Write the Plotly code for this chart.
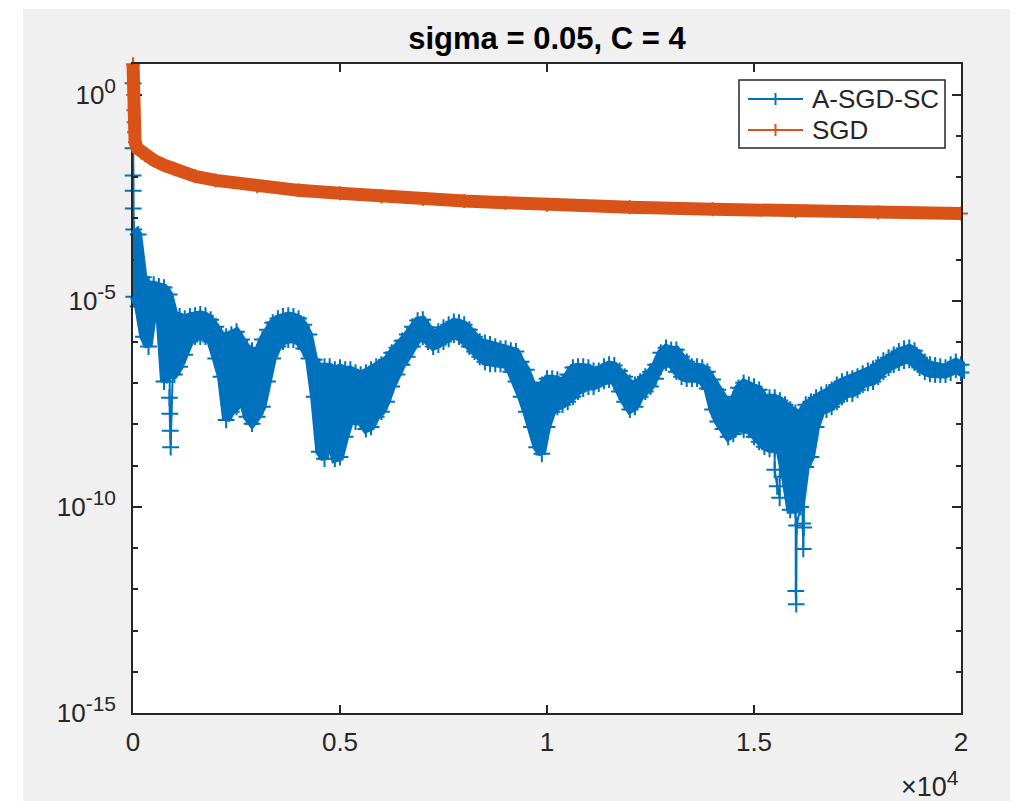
import numpy as np
import plotly.graph_objects as go

# ---------------------------------------------------------------------------
# Data (error vs. iteration, values stored as log10 exponents)
# ---------------------------------------------------------------------------

# A-SGD-SC: the first few iterates
asgd_start_iters = [1, 2, 3, 4, 5]
asgd_start_exp = [0.28, -1.30, -1.96, -2.33, -2.76]

# A-SGD-SC: afterwards the iterates oscillate quickly; upper / lower extent of the band
asgd_band_iters = [20] + list(range(125, 20001, 125))
asgd_upper_exp = [
    -3.27, -3.39, -4.43, -4.61, -4.61, -4.65, -4.68, -4.85, -5.33, -5.38,
    -5.43, -5.38, -5.36, -5.33, -5.36, -5.46, -5.63, -5.82, -5.87, -5.82,
    -5.75, -5.94, -6.14, -6.21, -6.26, -5.94, -5.70, -5.53, -5.43, -5.38,
    -5.36, -5.38, -5.43, -5.58, -5.82, -6.43, -6.60, -6.60, -6.60, -6.67,
    -6.62, -6.67, -6.67, -6.74, -6.79, -6.74, -6.67, -6.60, -6.55, -6.43,
    -6.26, -6.14, -5.97, -5.82, -5.63, -5.48, -5.46, -5.65, -5.82, -5.75,
    -5.65, -5.58, -5.51, -5.53, -5.58, -5.70, -5.87, -5.99, -6.02, -6.06,
    -6.11, -6.16, -6.16, -6.21, -6.23, -6.48, -6.67, -6.99, -7.16, -7.04,
    -6.89, -6.89, -6.91, -6.99, -6.79, -6.62, -6.60, -6.60, -6.62, -6.70,
    -6.70, -6.60, -6.55, -6.57, -6.70, -6.84, -6.99, -7.04, -6.96, -6.84,
    -6.72, -6.55, -6.26, -6.14, -6.19, -6.19, -6.36, -6.48, -6.60, -6.60,
    -6.62, -6.72, -6.91, -7.16, -7.33, -7.52, -7.40, -7.11, -6.99, -7.04,
    -7.08, -7.16, -7.35, -7.35, -7.35, -7.42, -7.52, -7.64, -7.72, -7.76,
    -7.52, -7.45, -7.35, -7.28, -7.23, -7.16, -7.04, -6.96, -6.91, -6.89,
    -6.84, -6.77, -6.70, -6.65, -6.55, -6.45, -6.38, -6.31, -6.23, -6.16,
    -6.14, -6.21, -6.38, -6.48, -6.55, -6.57, -6.60, -6.62, -6.55, -6.48,
    -6.55,
]
asgd_lower_exp = [
    -4.90, -5.14, -5.87, -6.11, -5.19, -5.14, -6.96, -6.77, -6.79, -6.60,
    -6.31, -5.99, -5.87, -5.87, -5.87, -5.99, -6.40, -6.84, -7.89, -7.69,
    -7.57, -7.33, -7.81, -7.98, -7.81, -7.57, -6.96, -6.40, -6.11, -5.99,
    -5.94, -5.94, -5.99, -6.16, -6.40, -7.33, -8.66, -8.83, -8.30, -8.83,
    -8.79, -8.30, -7.89, -7.93, -7.93, -8.11, -8.06, -7.81, -7.69, -7.45,
    -7.08, -6.79, -6.55, -6.36, -6.11, -5.94, -5.87, -5.99, -6.11, -6.06,
    -5.99, -5.92, -5.82, -5.87, -5.94, -6.11, -6.23, -6.36, -6.48, -6.53,
    -6.53, -6.53, -6.55, -6.72, -6.96, -7.33, -7.69, -8.06, -8.55, -8.71,
    -8.06, -7.69, -7.57, -7.52, -7.45, -7.33, -7.20, -7.13, -7.08, -7.08,
    -7.01, -6.94, -6.91, -6.96, -7.20, -7.45, -7.64, -7.57, -7.33, -7.20,
    -7.08, -6.89, -6.60, -6.50, -6.53, -6.72, -6.84, -6.89, -6.89, -6.89,
    -6.96, -7.13, -7.64, -7.93, -8.11, -8.30, -8.23, -8.06, -8.13, -8.13,
    -8.30, -8.42, -8.54, -8.59, -8.59, -8.66, -9.27, -10.07, -10.07, -10.00,
    -9.03, -8.79, -8.06, -7.69, -7.64, -7.57, -7.45, -7.33, -7.25, -7.25,
    -7.16, -7.03, -6.99, -6.96, -6.84, -6.72, -6.62, -6.55, -6.50, -6.45,
    -6.43, -6.50, -6.62, -6.72, -6.77, -6.79, -6.79, -6.79, -6.74, -6.67,
    -6.74,
]

# A-SGD-SC: isolated deep excursions below the band
asgd_dip_iters = [880, 890, 900, 910, 15500, 15560, 15620,
                  16010, 16020, 16030, 16180, 16190, 16200]
asgd_dip_exp = [-7.35, -7.74, -8.15, -8.55, -9.10, -9.50, -9.78,
                -12.04, -12.36, -10.45, -10.40, -11.02, -10.50]

# SGD: smooth decay
sgd_iters = [1, 2, 4, 8, 15, 25, 50, 100, 200, 300, 500, 750, 1000, 1500,
             2000, 3000, 4000, 5000, 6000, 7000, 8000, 9000, 10000, 12000,
             14000, 16000, 18000, 20000]
sgd_exp = [0.74, 0.28, -0.01, -0.38, -0.67, -0.91, -1.15, -1.30, -1.40, -1.47,
           -1.59, -1.71, -1.81, -1.98, -2.08, -2.22, -2.32, -2.39, -2.47, -2.53,
           -2.58, -2.62, -2.67, -2.73, -2.78, -2.83, -2.86, -2.88]

# Axis ticks
x_tickvals = [0, 5000, 10000, 15000, 20000]
x_ticktext = ["0", "0.5", "1", "1.5", "2"]
y_tick_exps = [-15, -10, -5, 0]

assert len(asgd_upper_exp) == len(asgd_band_iters) == len(asgd_lower_exp)
assert len(asgd_dip_iters) == len(asgd_dip_exp)

# ---------------------------------------------------------------------------
# Geometry and styling
# ---------------------------------------------------------------------------
BLUE = "#0072BD"
ORANGE = "#D95319"
AXC = "#262626"
FONT = "Liberation Sans, Arial, Helvetica, sans-serif"
W, H = 1018, 801
AX_L, AX_R, AX_T, AX_B = 133, 961, 64, 713      # axes box in pixels
BLEED_L, BLEED_R = 13, 14                        # thick strokes may spill past the box
ML, MR, MT, MB = AX_L - BLEED_L, W - AX_R - BLEED_R, AX_T, H - AX_B
PW, PH = W - ML - MR, H - MT - MB
X_MIN, X_MAX = 0, 20000
Y_RANGE = [-15, 0.745]
per_px = (X_MAX - X_MIN) / (AX_R - AX_L)


def px_x(p):
    return (p - ML) / PW


def px_y(p):
    return (H - MB - p) / PH


def sup(base, exp, size=21):
    return f"{base}<sup><span style='font-size:{size}px'>{exp}</span></sup>"


# Walk through the band: top/bottom at each sample, alternating direction,
# with the isolated excursions slotted in by iteration
pts = list(zip(asgd_start_iters, asgd_start_exp))
for k, it in enumerate(asgd_band_iters):
    up, lo = asgd_upper_exp[k], asgd_lower_exp[k]
    first, second = (up, lo) if k % 2 == 0 else (lo, up)
    pts += [(it, first), (it, second)]
pts += list(zip(asgd_dip_iters, asgd_dip_exp))
pts.sort(key=lambda p: p[0])
zig_x = [p[0] for p in pts]
zig_y = np.power(10.0, [p[1] for p in pts])

band_x = asgd_band_iters + asgd_band_iters[::-1]
band_y = np.power(10.0, asgd_upper_exp + asgd_lower_exp[::-1])

sgd_y = np.power(10.0, sgd_exp)


def cross(c, size=12):
    return dict(symbol="cross-thin", size=size, color=c, line=dict(width=2, color=c))


fig = go.Figure()

# series with their '+' markers on the main axes
fig.add_trace(go.Scatter(
    x=zig_x, y=zig_y, mode="lines+markers", name="A-SGD-SC",
    line=dict(color=BLUE, width=2), marker=cross(BLUE), cliponaxis=False,
    showlegend=False,
))
fig.add_trace(go.Scatter(
    x=sgd_iters, y=sgd_y, mode="lines+markers", name="SGD",
    line=dict(color=ORANGE, width=2), marker=cross(ORANGE, 10), cliponaxis=False,
    showlegend=False,
))

# the densely packed markers read as thick strokes; these sit on a hidden twin
# of the axes that is a few pixels wider so they are not cut at the axes box
twin = dict(xaxis="x2", yaxis="y2", showlegend=False, hoverinfo="skip")
fig.add_trace(go.Scatter(
    x=band_x, y=band_y, mode="lines", fill="toself", fillcolor=BLUE,
    line=dict(color=BLUE, width=8), **twin,
))
fig.add_trace(go.Scatter(
    x=sgd_iters, y=sgd_y, mode="lines", line=dict(color=ORANGE, width=13), **twin,
))

minor_vals = [10.0 ** e for e in range(-14, 1) if e % 5 != 0]

fig.update_layout(
    width=W, height=H,
    margin=dict(l=ML, r=MR, t=MT, b=MB, pad=0),
    paper_bgcolor="#f0f0f0",
    plot_bgcolor="rgba(0,0,0,0)",
    font=dict(family=FONT, size=26, color=AXC),
    title=dict(
        text="<b>sigma = 0.05, C = 4</b>",
        font=dict(family=FONT, size=31, color="black"),
        x=px_x((AX_L + AX_R) / 2), xref="paper", xanchor="center",
        y=1 - 38.5 / H, yref="container", yanchor="middle",
    ),
    xaxis=dict(
        domain=[px_x(AX_L), px_x(AX_R)], anchor="y",
        range=[X_MIN, X_MAX], tickmode="array", tickvals=x_tickvals, ticktext=x_ticktext,
        ticks="inside", ticklen=8, tickwidth=1.5, tickcolor=AXC,
        showline=True, linecolor=AXC, linewidth=1.5, mirror="ticks",
        showgrid=False, zeroline=False,
        tickfont=dict(family=FONT, size=26, color=AXC), ticklabelstandoff=5,
    ),
    yaxis=dict(
        domain=[0, 1], anchor="x",
        type="log", range=Y_RANGE, tickmode="array",
        tickvals=[10.0 ** e for e in y_tick_exps],
        ticktext=[sup("10", e) for e in y_tick_exps],
        ticks="inside", ticklen=9, tickwidth=1.5, tickcolor=AXC,
        minor=dict(tickmode="array", tickvals=minor_vals, ticks="inside",
                   ticklen=5, tickwidth=1.5, tickcolor=AXC, showgrid=False),
        showline=True, linecolor=AXC, linewidth=1.5, mirror="ticks",
        showgrid=False, zeroline=False,
        tickfont=dict(family=FONT, size=26, color=AXC), ticklabelstandoff=10,
    ),
    xaxis2=dict(
        domain=[0, 1], anchor="y2", visible=False,
        range=[X_MIN - BLEED_L * per_px, X_MAX + BLEED_R * per_px],
    ),
    yaxis2=dict(domain=[0, 1], anchor="x2", visible=False, type="log", range=Y_RANGE),
    showlegend=False,
)

# white axes background
fig.add_shape(
    type="rect", xref="paper", yref="paper",
    x0=px_x(AX_L), x1=px_x(AX_R), y0=0, y1=1,
    fillcolor="white", line=dict(width=0), layer="below",
)

# exponent label of the x axis
fig.add_annotation(
    text="×" + sup("10", 4), x=px_x(AX_R), xref="paper", xanchor="right",
    y=px_y(784), yref="paper", yanchor="middle", showarrow=False,
    font=dict(family=FONT, size=27, color=AXC),
)

# legend box with line + marker samples
LEG_X0, LEG_X1, LEG_Y0, LEG_Y1 = 739, 945, 80, 148
fig.add_shape(
    type="rect", xref="paper", yref="paper",
    x0=px_x(LEG_X0), x1=px_x(LEG_X1), y0=px_y(LEG_Y1), y1=px_y(LEG_Y0),
    fillcolor="white", line=dict(color=AXC, width=1.5), layer="above",
)
for name, color, row_y in [("A-SGD-SC", BLUE, 99), ("SGD", ORANGE, 130)]:
    fig.add_shape(
        type="line", xref="paper", yref="paper",
        x0=px_x(748), x1=px_x(803), y0=px_y(row_y), y1=px_y(row_y),
        line=dict(color=color, width=2), layer="above",
    )
    fig.add_shape(
        type="line", xref="paper", yref="paper",
        x0=px_x(775.5), x1=px_x(775.5), y0=px_y(row_y - 6), y1=px_y(row_y + 6),
        line=dict(color=color, width=2), layer="above",
    )
    fig.add_annotation(
        text=name, x=px_x(810), xref="paper", xanchor="left",
        y=px_y(row_y), yref="paper", yanchor="middle", showarrow=False,
        font=dict(family=FONT, size=26, color=AXC),
    )

# white border strips around the grey figure area
for x0, x1, y0, y1 in [(0, 23, 0, H), (0, W, 0, 9), (1010, W, 0, H)]:
    fig.add_shape(
        type="rect", xref="paper", yref="paper",
        x0=px_x(x0) - (0.01 if x0 == 0 else 0), x1=px_x(x1) + (0.01 if x1 == W else 0),
        y0=px_y(y1) - (0.01 if y1 == H else 0), y1=px_y(y0) + 0.01,
        fillcolor="white", line=dict(width=0), layer="above",
    )

fig.write_html("out.html")
